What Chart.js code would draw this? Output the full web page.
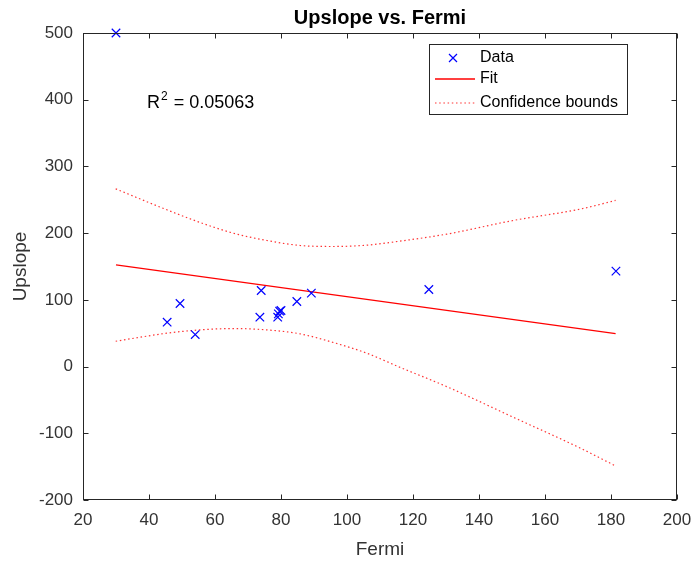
<!DOCTYPE html>
<html>
<head>
<meta charset="utf-8">
<title>Upslope vs. Fermi</title>
<script src="https://cdn.jsdelivr.net/npm/chart.js@4.4.0/dist/chart.umd.min.js"></script>
<style>
  html, body { margin: 0; padding: 0; background: #ffffff; }
  #wrap { width: 694px; height: 563px; }
</style>
</head>
<body>
<div id="wrap"><canvas id="chart" width="694" height="563"></canvas></div>
<script>
// Observations
const fermi   = [30, 45.5, 49.4, 54, 73.6, 74, 79, 79.2, 79.6, 80, 84.8, 89.2, 124.8, 181.5];
const upslope = [500, 66.5, 94.5, 48, 74, 114, 74, 79, 83, 84, 97.5, 110, 115.5, 143];

// Linear fit end points
const fitX = [30, 181.4];
const fitY = [152.5, 49.5];

// Confidence bounds around the fit
const boundX = [29.9, 45.4, 55.5, 65.5, 75.7, 85.8, 95.9, 106, 116, 130.2, 150.4, 170.6, 181.4];
const upperY = [266.4, 235, 216, 200, 189, 181.5, 180, 182, 188, 198.5, 219, 236, 249];
const lowerY = [38, 50, 55, 57, 55, 49, 36, 20, -1, -30, -76, -122, -149];

// Axis ranges and tick steps
const xRange = [20, 200];
const xStep = 20;
const yRange = [-200, 500];
const yStep = 100;

// Text
const chartTitle = 'Upslope vs. Fermi';
const xLabel = 'Fermi';
const yLabel = 'Upslope';
const r2Value = '0.05063';
const legendLabels = ['Data', 'Fit', 'Confidence bounds'];

const FONT = '"Liberation Sans", Arial, Helvetica, sans-serif';
const INK = '#262626';
const TICK_INK = '#333333';
const BLUE = '#0000ff';
const RED = '#ff0000';
const DOT_RED = 'rgba(255,0,0,0.8)';
const DOTS = [1.5, 2.7];

const pts = (xs, ys) => xs.map((x, i) => ({ x: x, y: ys[i] }));

// Frame, inward ticks, title, R² note and legend
const decorations = {
  id: 'decorations',
  afterDraw(chart) {
    const { ctx, chartArea: a, scales } = chart;
    const xs = scales.x, ys = scales.y;
    ctx.save();
    ctx.strokeStyle = INK;
    ctx.lineWidth = 1;
    const L = Math.round(a.left) + 0.5, R = Math.round(a.right) - 0.5;
    const T = Math.round(a.top) + 0.5, B = Math.round(a.bottom) - 0.5;
    ctx.strokeRect(L, T, R - L, B - T);
    const tk = 5;
    ctx.beginPath();
    for (let v = xRange[0]; v <= xRange[1]; v += xStep) {
      const px = Math.round(xs.getPixelForValue(v)) + 0.5;
      ctx.moveTo(px, B); ctx.lineTo(px, B - tk);
      ctx.moveTo(px, T); ctx.lineTo(px, T + tk);
    }
    for (let v = yRange[0]; v <= yRange[1]; v += yStep) {
      const py = Math.round(ys.getPixelForValue(v)) + 0.5;
      ctx.moveTo(L, py); ctx.lineTo(L + tk, py);
      ctx.moveTo(R, py); ctx.lineTo(R - tk, py);
    }
    ctx.stroke();

    // Title
    ctx.fillStyle = '#000000';
    ctx.font = 'bold 20px ' + FONT;
    ctx.textAlign = 'center';
    ctx.textBaseline = 'middle';
    ctx.fillText(chartTitle, (a.left + a.right) / 2, 18);

    // R² annotation
    ctx.fillStyle = '#000000';
    ctx.textAlign = 'left';
    ctx.textBaseline = 'alphabetic';
    ctx.font = '18px ' + FONT;
    const rx = 147, ry = 108;
    ctx.fillText('R', rx, ry);
    const rw = ctx.measureText('R').width;
    ctx.font = '12px ' + FONT;
    ctx.fillText('2', rx + rw + 1, ry - 8);
    const sw = ctx.measureText('2').width;
    ctx.font = '18px ' + FONT;
    ctx.fillText(' = ' + r2Value, rx + rw + sw + 2, ry);

    // Legend
    const bx = 429.5, by = 44.5, bw = 198, bh = 70;
    ctx.fillStyle = '#ffffff';
    ctx.fillRect(bx, by, bw, bh);
    ctx.strokeStyle = INK;
    ctx.lineWidth = 1;
    ctx.strokeRect(bx, by, bw, bh);
    const rows = [58, 79, 103];
    const lx0 = 435, lx1 = 475, tx = 480;
    // Data marker
    ctx.strokeStyle = BLUE;
    ctx.lineWidth = 1.2;
    ctx.beginPath();
    ctx.moveTo(449, rows[0] - 4); ctx.lineTo(457, rows[0] + 4);
    ctx.moveTo(457, rows[0] - 4); ctx.lineTo(449, rows[0] + 4);
    ctx.stroke();
    // Fit line
    ctx.strokeStyle = RED;
    ctx.lineWidth = 1.3;
    ctx.beginPath();
    ctx.moveTo(lx0, rows[1]); ctx.lineTo(lx1, rows[1]);
    ctx.stroke();
    // Bounds line
    ctx.strokeStyle = DOT_RED;
    ctx.lineWidth = 1.2;
    ctx.setLineDash(DOTS);
    ctx.beginPath();
    ctx.moveTo(lx0, rows[2]); ctx.lineTo(lx1, rows[2]);
    ctx.stroke();
    ctx.setLineDash([]);
    ctx.fillStyle = '#000000';
    ctx.font = '16px ' + FONT;
    ctx.textBaseline = 'middle';
    legendLabels.forEach((t, i) => ctx.fillText(t, tx, rows[i]));
    ctx.restore();
  }
};

new Chart(document.getElementById('chart'), {
  type: 'line',
  data: {
    datasets: [
      {
        label: legendLabels[0],
        data: pts(fermi, upslope),
        showLine: false,
        pointStyle: 'crossRot',
        pointRadius: 6,
        pointBorderWidth: 1.2,
        pointBorderColor: BLUE,
        pointBackgroundColor: BLUE,
        clip: false
      },
      {
        label: legendLabels[1],
        data: pts(fitX, fitY),
        borderColor: RED,
        borderWidth: 1.2,
        pointRadius: 0,
        fill: false
      },
      {
        label: legendLabels[2],
        data: pts(boundX, upperY),
        borderColor: DOT_RED,
        borderWidth: 1.2,
        borderDash: DOTS,
        pointRadius: 0,
        cubicInterpolationMode: 'monotone',
        fill: false
      },
      {
        label: legendLabels[2],
        data: pts(boundX, lowerY),
        borderColor: DOT_RED,
        borderWidth: 1.2,
        borderDash: DOTS,
        pointRadius: 0,
        cubicInterpolationMode: 'monotone',
        fill: false
      }
    ]
  },
  options: {
    responsive: false,
    devicePixelRatio: 1,
    animation: false,
    layout: { padding: { top: 33, right: 17, bottom: 0, left: 0 } },
    plugins: {
      legend: { display: false },
      tooltip: { enabled: false },
      title: { display: false }
    },
    scales: {
      x: {
        type: 'linear',
        min: xRange[0],
        max: xRange[1],
        grid: { display: false, drawTicks: false },
        border: { display: false },
        ticks: {
          stepSize: xStep,
          padding: 10,
          color: TICK_INK,
          font: { family: FONT, size: 17 },
          maxRotation: 0
        },
        title: {
          display: true,
          text: xLabel,
          color: TICK_INK,
          font: { family: FONT, size: 19 },
          padding: { top: 0, bottom: 2 }
        },
        afterFit(scale) {
          scale.height = 63;
          scale.paddingLeft = 0;
          scale.paddingRight = 0;
        }
      },
      y: {
        type: 'linear',
        min: yRange[0],
        max: yRange[1],
        grid: { display: false, drawTicks: false },
        border: { display: false },
        ticks: {
          stepSize: yStep,
          padding: 10,
          color: TICK_INK,
          font: { family: FONT, size: 17 }
        },
        title: {
          display: true,
          text: yLabel,
          color: TICK_INK,
          font: { family: FONT, size: 19 },
          padding: { top: 9, bottom: 0 }
        },
        afterFit(scale) {
          scale.width = 83;
          scale.paddingTop = 0;
          scale.paddingBottom = 0;
        }
      }
    }
  },
  plugins: [decorations]
});
</script>
</body>
</html>
